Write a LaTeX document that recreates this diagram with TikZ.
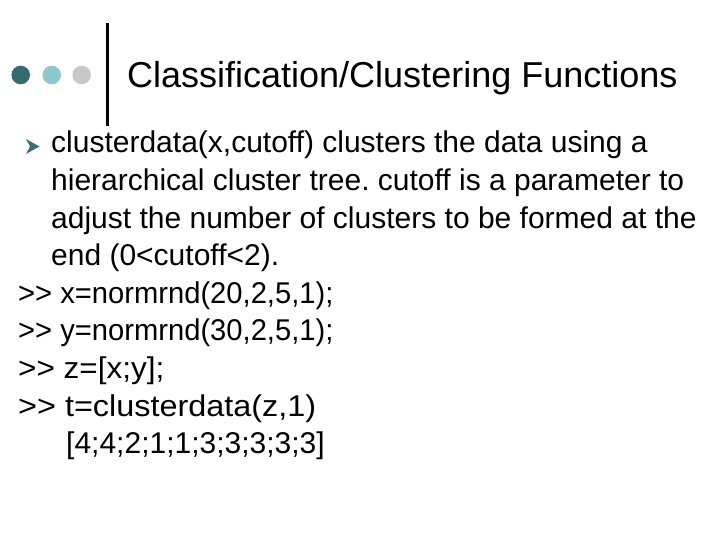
\documentclass[tikz,border=0pt]{standalone}
\usepackage{fontspec}
\usepackage{graphicx}
\setmainfont{Liberation Sans}[Ligatures=TeXOff]
\definecolor{dotdark}{HTML}{336B6F}
\definecolor{dotlight}{HTML}{8CC8CC}
\definecolor{dotgray}{HTML}{C8C8C8}
\definecolor{bulletcol}{HTML}{3A6E70}
\newcommand{\hstretch}[2]{\scalebox{#1}[1]{#2}}
\frenchspacing
\begin{document}
\begin{tikzpicture}[>=latex,line join=bevel,
  titletext/.style={anchor=base west,inner sep=0pt,font=\fontsize{36bp}{40bp}\selectfont},
  bodytext/.style={anchor=base west,inner sep=0pt,font=\fontsize{30bp}{36bp}\selectfont}]
\useasboundingbox (0bp,0bp) rectangle (720bp,540bp);
%%
\fill [dotdark] (20.7bp,465bp) circle (9.3bp);
\fill [dotlight] (51.7bp,465bp) circle (9.3bp);
\fill [dotgray] (81.7bp,465bp) circle (9.3bp);
\draw [black,line width=3.5bp] (107.3bp,517bp) -- (107.3bp,414bp);
\node (title) at (127bp,452bp) [titletext] {Classification/Clustering Functions};
%
\fill [bulletcol] (26bp,401bp) -- (39.5bp,393.5bp) -- (26bp,386bp) -- (30bp,393.5bp) -- cycle;
\node (line_1) at (51bp,387bp) [bodytext] {clusterdata(x,cutoff) clusters the data using a};
\node (line_2) at (51bp,349.4bp) [bodytext] {hierarchical cluster tree. cutoff is a parameter to};
\node (line_3) at (51bp,311.8bp) [bodytext] {adjust the number of clusters to be formed at the};
\node (line_4) at (51bp,274.2bp) [bodytext] {end (0<cutoff<2).};
\node (cmd_x) at (18bp,236.6bp) [bodytext] {\hstretch{0.972}{>> x=normrnd(20,2,5,1);}};
\node (cmd_y) at (18bp,199bp) [bodytext] {\hstretch{0.972}{>> y=normrnd(30,2,5,1);}};
\node (cmd_z) at (18bp,161.4bp) [bodytext] {\hstretch{1.05}{>> z=[x;y];}};
\node (cmd_t) at (18bp,123.8bp) [bodytext] {\hstretch{1.08}{>> t=clusterdata(z,1)}};
\node (result) at (66bp,86.2bp) [bodytext] {[4;4;2;1;1;3;3;3;3;3]};
%
\end{tikzpicture}
\end{document}
